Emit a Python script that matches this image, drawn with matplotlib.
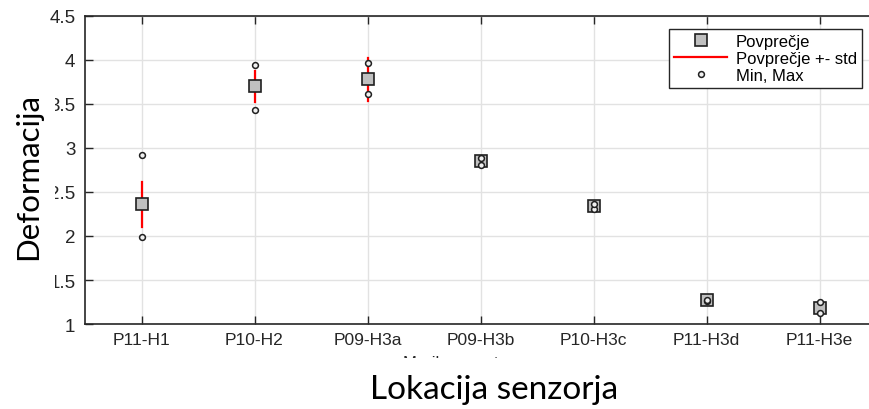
import matplotlib
matplotlib.use("Agg")
import matplotlib.pyplot as plt
from matplotlib.patches import Rectangle
from matplotlib.ticker import FuncFormatter

# podatki odčitani s slike
lokacije = ['P11-H1', 'P10-H2', 'P09-H3a', 'P09-H3b', 'P10-H3c', 'P11-H3d', 'P11-H3e']
povprecje = [2.36, 3.70, 3.78, 2.85, 2.34, 1.27, 1.18]
std = [0.255, 0.175, 0.245, 0.02, 0.01, 0.005, 0.045]
minimum = [1.99, 3.43, 3.61, 2.81, 2.31, 1.26, 1.12]
maksimum = [2.92, 3.94, 3.97, 2.89, 2.36, 1.27, 1.25]

plt.rcParams['font.family'] = ['Liberation Sans', 'DejaVu Sans']

fig = plt.figure(figsize=(8.69, 4.10), dpi=100)
ax = fig.add_axes([85 / 869, 1 - 325 / 410, 791 / 869, 308 / 410])

x = list(range(1, len(lokacije) + 1))

# povprečje +- std
for i, xi in enumerate(x):
    ax.plot([xi, xi], [povprecje[i] - std[i], povprecje[i] + std[i]],
            color='red', lw=1.6, zorder=3,
            label='Povprečje +- std' if i == 0 else None)

ax.plot(x, povprecje, 's', ms=8, mfc='#c0c0c0', mec='#202020', mew=1.2,
        ls='none', zorder=4, label='Povprečje')
ax.plot(x + x, minimum + maksimum, 'o', ms=4.2, mfc='#f0f0f0', mec='#202020',
        mew=1.1, ls='none', zorder=5, label='Min, Max')

ax.set_xlim(0.5, 7.5)
ax.set_ylim(1, 4.5)
ax.set_xticks(x)
ax.set_xticklabels(lokacije, fontsize=12.5, color='#262626')
ax.set_yticks([1, 1.5, 2, 2.5, 3, 3.5, 4, 4.5])
ax.yaxis.set_major_formatter(FuncFormatter(lambda v, p: '%g' % v))
ax.tick_params(axis='y', labelsize=13.5, labelcolor='#262626', pad=7)
ax.tick_params(axis='x', pad=6)
ax.tick_params(direction='in', length=6, width=1, top=True, right=False,
               color='#262626')
ax.grid(True, color='#e2e2e2', lw=1)
ax.set_axisbelow(True)
ax.spines['right'].set_visible(False)
for s in ax.spines.values():
    s.set_color('#262626')
    s.set_linewidth(1.2)

# urejen vrstni red legende
h, l = ax.get_legend_handles_labels()
red = ['Povprečje', 'Povprečje +- std', 'Min, Max']
hh = [h[l.index(n)] for n in red]
leg = ax.legend(hh, red, loc='upper right', bbox_to_anchor=(0.982, 0.958),
                fontsize=12, frameon=True, fancybox=False, framealpha=1,
                edgecolor='#262626', borderpad=0.3, labelspacing=0.12,
                handlelength=3.2, handletextpad=0.5, borderaxespad=0)
leg.get_frame().set_linewidth(1)

# originalni napis osi, delno prekrit
fig.text(455 / 869, 1 - 364 / 410, 'Merilno mesto', fontsize=12,
         color='#262626', ha='center', va='center')
fig.patches.append(Rectangle((0, 0), 1, 1 - 359 / 410, transform=fig.transFigure,
                             facecolor='white', edgecolor='none', zorder=5))
fig.patches.append(Rectangle((0, 1 - 292 / 410), 55 / 869, 195 / 410,
                             transform=fig.transFigure, facecolor='white',
                             edgecolor='none', zorder=5))

fig.text(494 / 869, 1 - 390 / 410, 'Lokacija senzorja', fontsize=24,
         family=['Lato', 'DejaVu Sans'], ha='center', va='center', zorder=6)
fig.text(28 / 869, 1 - 177 / 410, 'Deformacija', fontsize=22.5, rotation=90,
         family=['Lato', 'DejaVu Sans'], ha='center', va='center', zorder=6)

fig.savefig('out.png', dpi=100)
